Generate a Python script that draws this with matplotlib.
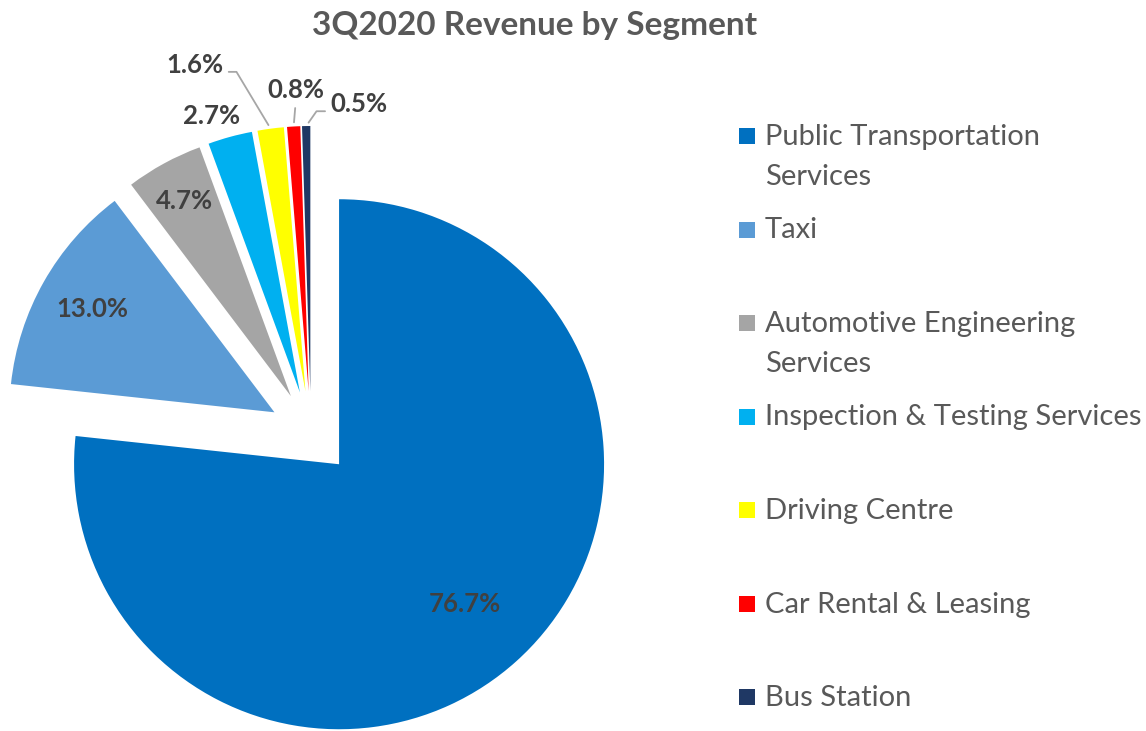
import numpy as np
import matplotlib.pyplot as plt

segments = ["Public Transportation\nServices", "Taxi", "Automotive Engineering\nServices",
            "Inspection & Testing Services", "Driving Centre", "Car Rental & Leasing", "Bus Station"]
shares = [76.7, 13.0, 4.7, 2.7, 1.6, 0.8, 0.5]
colors = ["#0070C0", "#5B9BD5", "#A5A5A5", "#00B0F0", "#FFFF00", "#FF0000", "#1F3864"]

plt.rcParams['font.family'] = ['Lato', 'DejaVu Sans']
W, H = 1146, 731
fig = plt.figure(figsize=(W / 100, H / 100), dpi=100)
ax = fig.add_axes([0, 0, 1, 1])

R = 265
wedges, _ = ax.pie(shares, colors=colors, startangle=90, counterclock=False,
                   explode=[42] * len(shares), radius=R, center=(311, H - 433),
                   wedgeprops=dict(linewidth=0), frame=True)
ax.set_xlim(0, W)
ax.set_ylim(0, H)
ax.axis('off')

lab_color = "#404040"
lab_kw = dict(fontsize=18.5, fontweight='bold', color=lab_color, ha='center', va='center')

# labels inside the big slices
inside_dist = [0.71, 0.79, 0.84]
for w, s, d in zip(wedges[:3], shares[:3], inside_dist):
    a = np.deg2rad((w.theta1 + w.theta2) / 2)
    cx, cy = w.center
    ax.text(cx + d * R * np.cos(a), cy + d * R * np.sin(a), f"{s:.1f}%", **lab_kw)

# small slices: labels outside, some with leader lines
offsets = [(-18, 21), (-76, 64), (2, 36), (53, 22)]
leaders = [None,
           dict(relpos=(1.0, 0.2), connectionstyle="angle,angleA=0,angleB=121,rad=0"),
           dict(relpos=(0.5, 0.0), connectionstyle="arc3"),
           dict(relpos=(0.0, 0.2), connectionstyle="angle,angleA=180,angleB=55,rad=0")]
for w, s, off, ld in zip(wedges[3:], shares[3:], offsets, leaders):
    a = np.deg2rad((w.theta1 + w.theta2) / 2)
    cx, cy = w.center
    xy = (cx + R * np.cos(a), cy + R * np.sin(a))
    props = None
    if ld is not None:
        props = dict(arrowstyle='-', color="#A6A6A6", lw=1.3, shrinkA=2, shrinkB=3, **ld)
    ax.annotate(f"{s:.1f}%", xy=xy, xytext=off, textcoords='offset pixels',
                arrowprops=props, **lab_kw)

# legend drawn by hand so each entry sits on an even grid
leg_y0 = H - 136
leg_step = 93.5
for i, (name, c) in enumerate(zip(segments, colors)):
    y = leg_y0 - i * leg_step
    ax.scatter([747], [y], marker='s', s=120, color=c, linewidths=0)
    ax.text(765, y + 12, name, fontsize=21, color="#595959", ha='left', va='top',
            linespacing=1.65)

fig.text(535 / W, 1 - 25 / H, "3Q2020 Revenue by Segment", fontsize=24, fontweight='bold',
         color="#595959", ha='center', va='center')

fig.savefig("out.png", dpi=100)
